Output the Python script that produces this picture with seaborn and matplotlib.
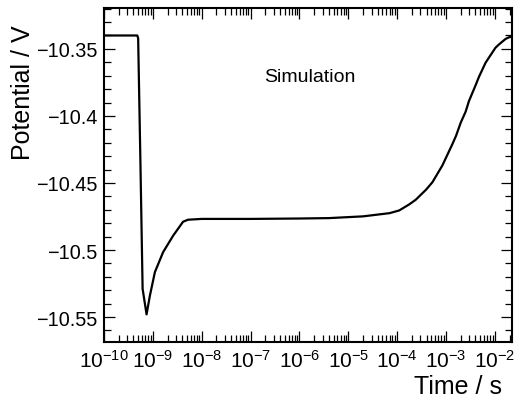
import numpy as np
import matplotlib
matplotlib.use("Agg")
import matplotlib.pyplot as plt
import matplotlib.ticker as mticker
import seaborn as sns

# Values
time_s = [1e-10, 4.8e-10, 5.0e-10, 5.56e-10, 6.17e-10, 7.43e-10, 8.7e-10,
          1.1e-9, 1.62e-9, 2.6e-9, 4.15e-9, 5.25e-9, 1e-8, 1e-7, 1e-6,
          4e-6, 2e-5, 7e-5, 1.1e-4, 1.76e-4, 2.4e-4, 3.9e-4, 5.25e-4,
          8.4e-4, 1.35e-3, 1.6e-3, 2.0e-3, 2.52e-3, 2.94e-3, 4.04e-3,
          4.7e-3, 6.45e-3, 7.55e-3, 1.03e-2, 1.21e-2, 1.65e-2, 1.93e-2,
          2.24e-2]
potential_v = [-10.34, -10.34, -10.342, -10.434, -10.529, -10.548, -10.534,
               -10.5165, -10.5016, -10.4893, -10.4789, -10.4774, -10.4768,
               -10.4768, -10.4765, -10.4762, -10.4749, -10.4725, -10.4705,
               -10.466, -10.4625, -10.455, -10.4495, -10.437, -10.421,
               -10.4149, -10.405, -10.3968, -10.389, -10.377, -10.371,
               -10.3603, -10.3565, -10.3491, -10.3467, -10.3426, -10.3414,
               -10.3407]

x_limits = (1e-10, 2.24e-2)
y_limits = (-10.5686, -10.3195)
y_major = [-10.55, -10.5, -10.45, -10.4, -10.35]

sns.set_style("ticks")
plt.rcParams['font.family'] = ['Liberation Sans', 'DejaVu Sans']
plt.rcParams['mathtext.default'] = 'regular'
plt.rcParams['text.color'] = 'black'
plt.rcParams['axes.labelcolor'] = 'black'

fig = plt.figure(figsize=(5.15, 4.06), dpi=100)
ax = fig.add_axes([104 / 515, 63 / 406, 408 / 515, 334 / 406])

sns.lineplot(x=time_s, y=potential_v, color='black', linewidth=1.6, ax=ax)

ax.set_xscale('log')
ax.set_xlim(*x_limits)
ax.set_ylim(*y_limits)

ax.xaxis.set_major_locator(mticker.LogLocator(base=10, numticks=20))
ax.xaxis.set_minor_locator(mticker.LogLocator(base=10, subs=np.arange(2, 10), numticks=20))
ax.xaxis.set_minor_formatter(mticker.NullFormatter())
ax.yaxis.set_major_locator(mticker.FixedLocator(y_major))
ax.yaxis.set_minor_locator(mticker.MultipleLocator(0.01))
ax.yaxis.set_major_formatter(mticker.FuncFormatter(lambda v, p: ('%g' % v).replace('-', '\u2212')))

ax.tick_params(which='both', direction='in', top=True, right=True, width=0.9,
               colors='black')
ax.tick_params(axis='x', labelsize=15)
ax.tick_params(axis='y', labelsize=14.3)
ax.tick_params(which='major', length=8, pad=5)
ax.tick_params(which='minor', length=5)
for sp in ax.spines.values():
    sp.set_linewidth(1.5)
    sp.set_color('black')

ax.set_xlabel('Time / s', fontsize=18, ha='right', color='black')
ax.xaxis.set_label_coords((502 - 104) / 408, -0.097)
ax.set_ylabel('Potential / V', fontsize=18, color='black')
ax.yaxis.set_label_coords(-0.168, 0.75)

ax.text(0.505, 0.794, 'Simulation', transform=ax.transAxes, fontsize=14,
        ha='center', va='center', color='black')

fig.savefig('out.png', dpi=100)
